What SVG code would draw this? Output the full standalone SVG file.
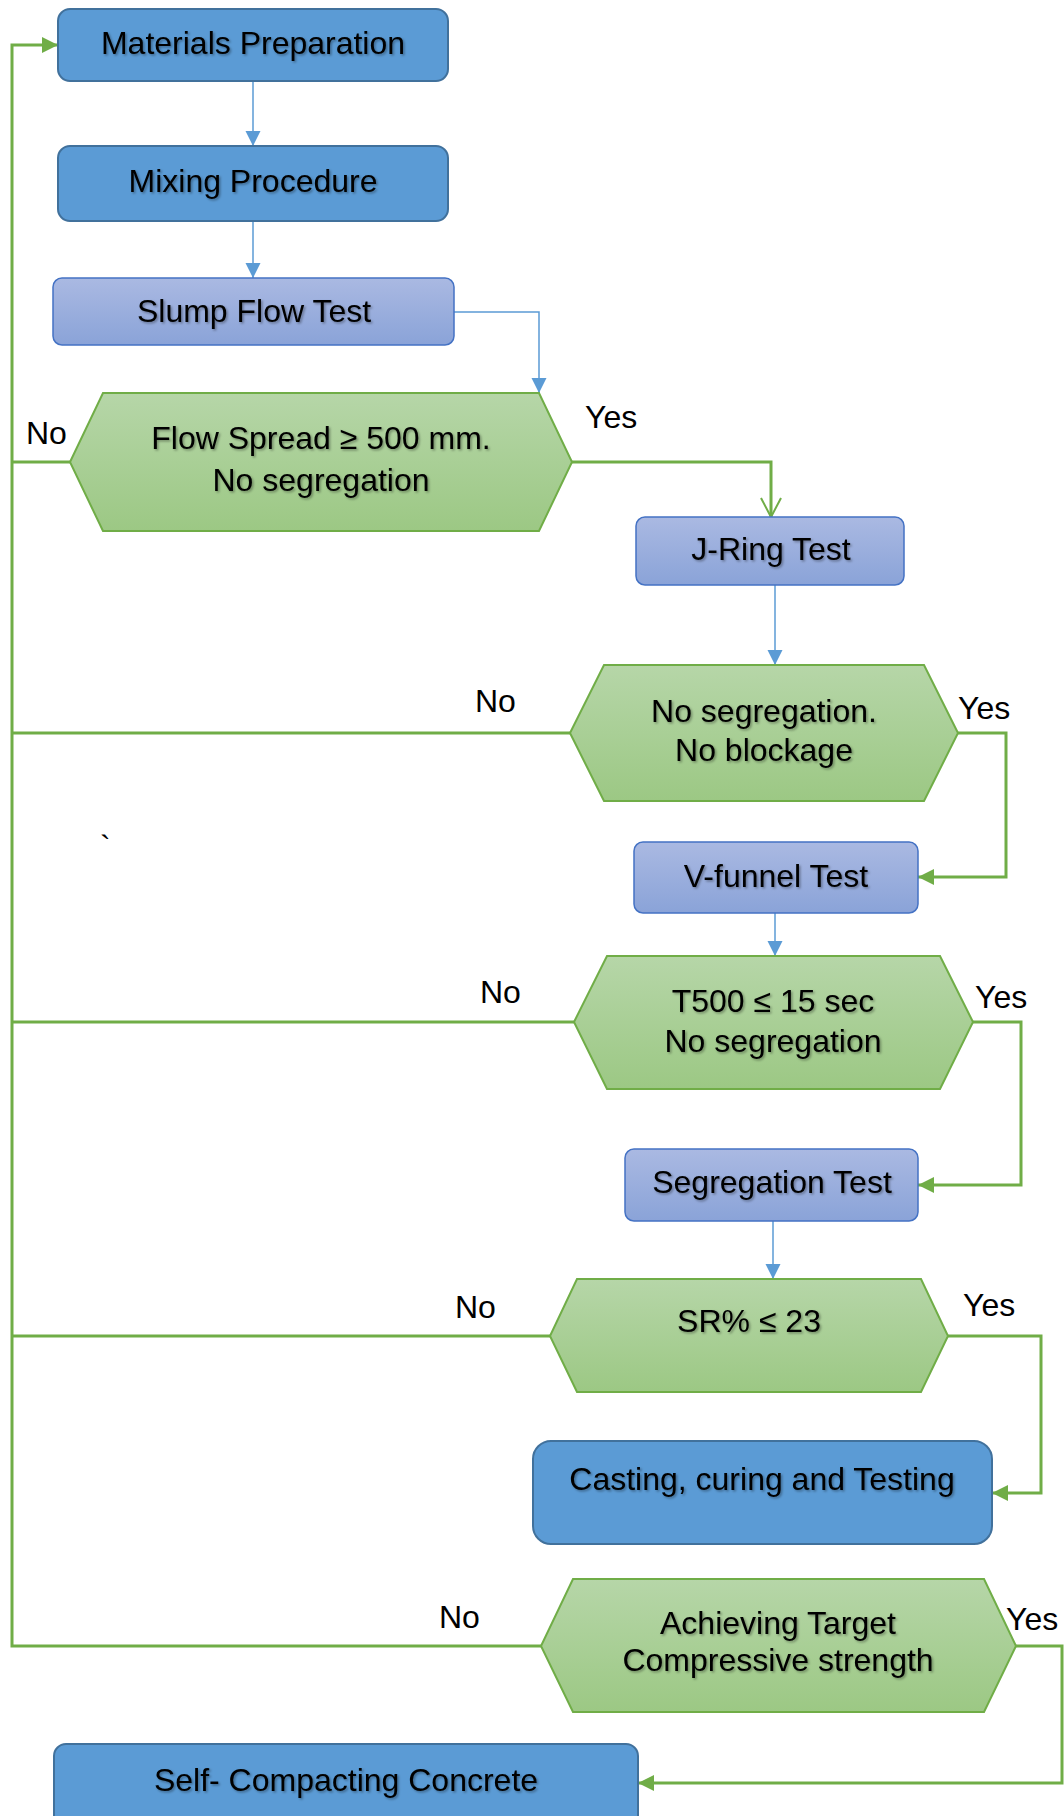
<svg xmlns="http://www.w3.org/2000/svg" width="1064" height="1816" viewBox="0 0 1064 1816">
<defs>
<linearGradient id="gLight" x1="0" y1="0" x2="0" y2="1"><stop offset="0" stop-color="#aab9e2"/><stop offset="1" stop-color="#8aa3d8"/></linearGradient>
<linearGradient id="gHex" x1="0" y1="0" x2="0" y2="1"><stop offset="0" stop-color="#b6d6a8"/><stop offset="1" stop-color="#9cc884"/></linearGradient>
<filter id="sh" x="-10%" y="-30%" width="120%" height="160%"><feDropShadow dx="1.5" dy="1.5" stdDeviation="1" flood-color="#000" flood-opacity="0.35"/></filter>
<marker id="aBlue" markerUnits="userSpaceOnUse" markerWidth="16" markerHeight="16" refX="15" refY="7.5" orient="auto"><path d="M0,0 L15,7.5 L0,15 Z" fill="#5b9bd5"/></marker>
<marker id="aGreen" markerUnits="userSpaceOnUse" markerWidth="18" markerHeight="18" refX="16" refY="8" orient="auto"><path d="M0,0 L16,8 L0,16 Z" fill="#70ad47"/></marker>
<marker id="aGreenOpen" markerUnits="userSpaceOnUse" markerWidth="24" markerHeight="24" refX="20" refY="11" orient="auto"><path d="M1,1 L20,11 L1,21" fill="none" stroke="#70ad47" stroke-width="2"/></marker>
</defs>
<style>
.dark{fill:#5b9bd5;stroke:#41719c;stroke-width:2}
.light{fill:url(#gLight);stroke:#4472c4;stroke-width:1.5}
.hex{fill:url(#gHex);stroke:#70ad47;stroke-width:2}
.t{font-family:"Liberation Sans",Arial,sans-serif;font-size:32px;fill:#000;text-anchor:middle;filter:url(#sh)}
.lbl{font-family:"Liberation Sans",Arial,sans-serif;font-size:32px;fill:#000}
.cb{fill:none;stroke:#5b9bd5;stroke-width:1.5}
.cg{fill:none;stroke:#70ad47;stroke-width:3}
</style>
<rect width="1064" height="1816" fill="#fff"/>
<g id="connectors">
<path class="cb" d="M253,81 V146" marker-end="url(#aBlue)"/>
<path class="cb" d="M253,221 V278" marker-end="url(#aBlue)"/>
<path class="cb" d="M454,312 H539 V393" marker-end="url(#aBlue)"/>
<path class="cg" d="M572,462 H771 V517" marker-end="url(#aGreenOpen)"/>
<path class="cb" d="M775,585 V665" marker-end="url(#aBlue)"/>
<path class="cg" d="M958,733 H1006 V877 H918" marker-end="url(#aGreen)"/>
<path class="cb" d="M775,913 V956" marker-end="url(#aBlue)"/>
<path class="cg" d="M973,1022 H1021 V1185 H918" marker-end="url(#aGreen)"/>
<path class="cb" d="M773,1221 V1279" marker-end="url(#aBlue)"/>
<path class="cg" d="M948,1336 H1041 V1493 H992" marker-end="url(#aGreen)"/>
<path class="cg" d="M1016,1646 H1062 V1783 H638" marker-end="url(#aGreen)"/>
<path class="cg" d="M541,1646 H12 V45 H58" marker-end="url(#aGreen)"/>
<path class="cg" d="M70,462 H12"/>
<path class="cg" d="M570,733 H12"/>
<path class="cg" d="M574,1022 H12"/>
<path class="cg" d="M550,1336 H12"/>
<text class="lbl" x="26" y="444">No</text>
<text class="lbl" x="585" y="428">Yes</text>
<text class="lbl" x="475" y="712">No</text>
<text class="lbl" x="958" y="719">Yes</text>
<text class="lbl" x="480" y="1003">No</text>
<text class="lbl" x="975" y="1008">Yes</text>
<text class="lbl" x="455" y="1318">No</text>
<text class="lbl" x="963" y="1316">Yes</text>
<text class="lbl" x="439" y="1628">No</text>
<text class="lbl" x="1006" y="1630">Yes</text>
<text class="lbl" x="100" y="858">`</text>
</g>
<g id="materials"><rect class="dark" x="58" y="9" width="390" height="72" rx="12"/><text class="t" x="253" y="54">Materials Preparation</text></g>
<g id="mixing"><rect class="dark" x="58" y="146" width="390" height="75" rx="12"/><text class="t" x="253" y="192">Mixing Procedure</text></g>
<g id="slump"><rect class="light" x="53" y="278" width="401" height="67" rx="9"/><text class="t" x="254" y="322">Slump Flow Test</text></g>
<g id="dec1"><polygon class="hex" points="103,393 539,393 572,462 539,531 103,531 70,462"/><text class="t" x="321" y="449">Flow Spread ≥ 500 mm.</text><text class="t" x="321" y="491">No segregation</text></g>
<g id="jring"><rect class="light" x="636" y="517" width="268" height="68" rx="9"/><text class="t" x="771" y="560">J-Ring Test</text></g>
<g id="dec2"><polygon class="hex" points="604,665 924,665 958,733 924,801 604,801 570,733"/><text class="t" x="764" y="722">No segregation.</text><text class="t" x="764" y="761">No blockage</text></g>
<g id="vfunnel"><rect class="light" x="634" y="842" width="284" height="71" rx="9"/><text class="t" x="776" y="887">V-funnel Test</text></g>
<g id="dec3"><polygon class="hex" points="607,956 940,956 973,1022 940,1089 607,1089 574,1022"/><text class="t" x="773" y="1012">T500 ≤ 15 sec</text><text class="t" x="773" y="1052">No segregation</text></g>
<g id="segtest"><rect class="light" x="625" y="1149" width="293" height="72" rx="9"/><text class="t" x="772" y="1193">Segregation Test</text></g>
<g id="dec4"><polygon class="hex" points="577,1279 921,1279 948,1336 921,1392 577,1392 550,1336"/><text class="t" x="749" y="1332">SR% ≤ 23</text></g>
<g id="casting"><rect class="dark" x="533" y="1441" width="459" height="103" rx="18"/><text class="t" x="762" y="1490">Casting, curing and Testing</text></g>
<g id="dec5"><polygon class="hex" points="573,1579 984,1579 1016,1646 984,1712 573,1712 541,1646"/><text class="t" x="778" y="1634">Achieving Target</text><text class="t" x="778" y="1671">Compressive strength</text></g>
<g id="scc"><rect class="dark" x="54" y="1744" width="584" height="90" rx="12"/><text class="t" x="346" y="1791">Self- Compacting Concrete</text></g>
</svg>
